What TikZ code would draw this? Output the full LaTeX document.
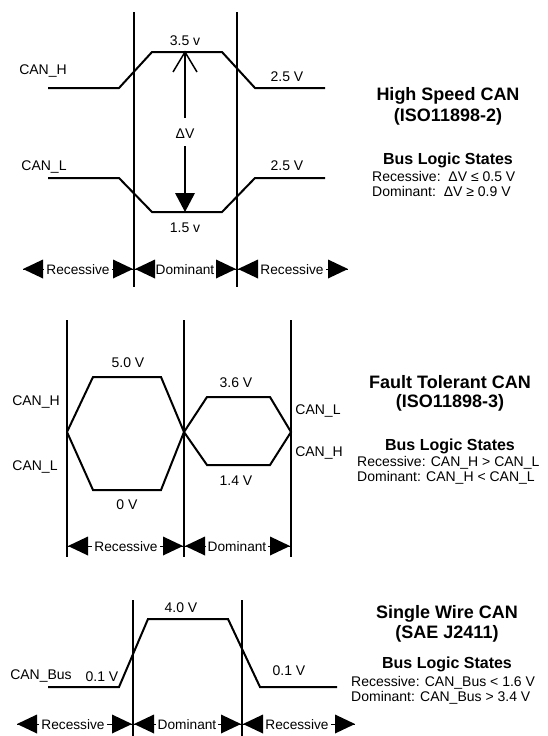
\documentclass[tikz,border=0pt]{standalone}
\usepackage{fontspec}
\setmainfont{Liberation Sans}
\begin{document}
\begin{tikzpicture}[x=1pt,y=-1pt,
  lbl/.style={inner sep=0pt, text height=10pt, text depth=0pt, font=\fontsize{14}{16}\selectfont},
  ttl/.style={inner sep=0pt, text height=13pt, text depth=0pt, font=\fontsize{18}{20}\selectfont\bfseries},
  sub/.style={inner sep=0pt, text height=11.5pt, text depth=0pt, font=\fontsize{16}{18}\selectfont\bfseries},
  sig/.style={line width=2pt, line join=miter},
  bar/.style={line width=1.2pt},
  span/.style={line width=0.6pt},
  spantext/.style={lbl, fill=white, inner xsep=2pt, inner ysep=1pt, font=\fontsize{13.7}{16}\selectfont},
  dvline/.style={line width=1.5pt},
  ltri/.pic={\fill (0,0) -- (20,-9.5) -- (20,9.5) -- cycle;},
  rtri/.pic={\fill (0,0) -- (-20,-9.5) -- (-20,9.5) -- cycle;}
]
\useasboundingbox (0,0) rectangle (548,736);

% ---------------- High Speed CAN ----------------
\coordinate (a1t) at (134,12); \coordinate (a1b) at (134,287);
\coordinate (a2t) at (237,12); \coordinate (a2b) at (237,287);
\draw[bar] (a1t) -- (a1b);
\draw[bar] (a2t) -- (a2b);
\draw[sig] (48,88) -- (119,88) -- (152,52) -- (222,52) -- (255,88) -- (325,88);
\draw[sig] (48,178) -- (119,178) -- (152,212) -- (222,212) -- (255,178) -- (325,178);

\node[lbl] (hsH) at (43,69) {CAN\_H};
\node[lbl] (hsL) at (44,165) {CAN\_L};
\node[lbl] (hs35) at (185,40) {3.5 v};
\node[lbl] (hs25a) at (287,76) {2.5 V};
\node[lbl] (hs25b) at (287,165) {2.5 V};
\node[lbl] (hs15) at (185,227) {1.5 v};
\node[lbl] (dv) at (185,133) {ΔV};
\coordinate (dvtop) at (185,52);
\coordinate (dvbot) at (185,212);
\draw[dvline] (dvtop) -- (185,118);
\draw[dvline] (173,72) -- (dvtop) -- (197,72);
\draw[dvline] (185,146) -- (185,195);
\fill (175,193) -- (195,193) -- (dvbot) -- cycle;

\coordinate (r1a) at (23,269); \coordinate (r1b) at (133,269);
\coordinate (r1c) at (135,269); \coordinate (r1d) at (236,269);
\coordinate (r1e) at (238,269); \coordinate (r1f) at (348,269);
\draw[span] (r1a) -- (r1b);
\draw[span] (r1c) -- (r1d);
\draw[span] (r1e) -- (r1f);
\node[spantext] (hsrec1) at (78,269) {Recessive};
\node[spantext] (hsdom) at (185,269) {Dominant};
\node[spantext] (hsrec2) at (292,269) {Recessive};
\foreach \p in {r1a,r1c,r1e} \pic at (\p) {ltri};
\foreach \p in {r1b,r1d,r1f} \pic at (\p) {rtri};

\node[ttl] (hst1) at (448,94) {High Speed CAN};
\node[ttl] (hst2) at (448,115) {(ISO11898-2)};
\node[sub] (hsb) at (448,159) {Bus Logic States};
\node[lbl, anchor=west] (hsr) at (372,176) {Recessive:\ \ ΔV ≤ 0.5 V};
\node[lbl, anchor=west] (hsd) at (372,191) {Dominant:\ \ ΔV ≥ 0.9 V};

% ---------------- Fault Tolerant CAN ----------------
\draw[bar] (67,320) -- (67,557);
\draw[bar] (184,320) -- (184,557);
\draw[bar] (291,320) -- (291,557);
\draw[sig] (67,432) -- (93,377) -- (161,377) -- (184,432) -- (161,490) -- (93,490) -- cycle;
\draw[sig] (184,432) -- (207,397) -- (270,397) -- (291,432) -- (270,465) -- (207,465) -- cycle;

\node[lbl] (ft50) at (128,362) {5.0 V};
\node[lbl] (ft36) at (236,382) {3.6 V};
\node[lbl] (ft14) at (236,480) {1.4 V};
\node[lbl] (ft0) at (127,504) {0 V};
\node[lbl] (ftH1) at (36,400) {CAN\_H};
\node[lbl] (ftL1) at (35,465) {CAN\_L};
\node[lbl] (ftL2) at (318,409) {CAN\_L};
\node[lbl] (ftH2) at (319,451) {CAN\_H};

\coordinate (r2a) at (68,546); \coordinate (r2b) at (183,546);
\coordinate (r2c) at (185,546); \coordinate (r2d) at (290,546);
\draw[span] (r2a) -- (r2b);
\draw[span] (r2c) -- (r2d);
\node[spantext] (ftrec) at (126,546) {Recessive};
\node[spantext] (ftdom) at (237,546) {Dominant};
\foreach \p in {r2a,r2c} \pic at (\p) {ltri};
\foreach \p in {r2b,r2d} \pic at (\p) {rtri};

\node[ttl] (ftt1) at (450,382) {Fault Tolerant CAN};
\node[ttl] (ftt2) at (450,401) {(ISO11898-3)};
\node[sub] (ftb) at (450,445) {Bus Logic States};
\node[lbl, anchor=west] (ftr) at (357,461) {Recessive: CAN\_H > CAN\_L};
\node[lbl, anchor=west] (ftd) at (357,476) {Dominant: CAN\_H < CAN\_L};

% ---------------- Single Wire CAN ----------------
\draw[bar] (133,600) -- (133,736);
\draw[bar] (242,600) -- (242,736);
\draw[sig] (48,687) -- (119,687) -- (148,619) -- (228,619) -- (260,687) -- (337,687);

\node[lbl] (swbus) at (41,674) {CAN\_Bus};
\node[lbl] (sw01a) at (102,676) {0.1 V};
\node[lbl] (sw40) at (181,607) {4.0 V};
\node[lbl] (sw01b) at (289,670) {0.1 V};

\coordinate (r3a) at (17,724); \coordinate (r3b) at (132,724);
\coordinate (r3c) at (134,724); \coordinate (r3d) at (241,724);
\coordinate (r3e) at (243,724); \coordinate (r3f) at (355,724);
\draw[span] (r3a) -- (r3b);
\draw[span] (r3c) -- (r3d);
\draw[span] (r3e) -- (r3f);
\node[spantext] (swrec1) at (73,724) {Recessive};
\node[spantext] (swdom) at (187,724) {Dominant};
\node[spantext] (swrec2) at (297,724) {Recessive};
\foreach \p in {r3a,r3c,r3e} \pic at (\p) {ltri};
\foreach \p in {r3b,r3d,r3f} \pic at (\p) {rtri};

\node[ttl] (swt1) at (447,612) {Single Wire CAN};
\node[ttl] (swt2) at (447,632) {(SAE J2411)};
\node[sub] (swb) at (447,663) {Bus Logic States};
\node[lbl, anchor=west] (swr) at (351,681) {Recessive: CAN\_Bus < 1.6 V};
\node[lbl, anchor=west] (swd) at (351,696) {Dominant: CAN\_Bus > 3.4 V};
\end{tikzpicture}
\end{document}
